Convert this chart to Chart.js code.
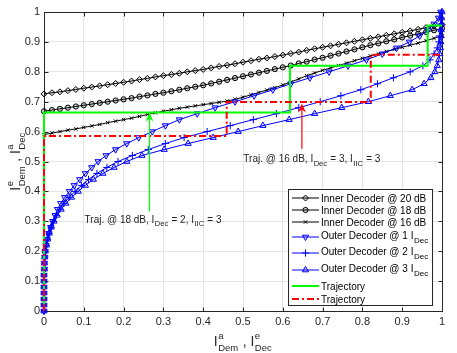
<!DOCTYPE html>
<html>
<head>
<meta charset="utf-8">
<script src="https://cdn.jsdelivr.net/npm/chart.js@4/dist/chart.umd.min.js"></script>
<style>
  html, body { margin: 0; padding: 0; background: #fff; }
  #wrap { position: relative; width: 457px; height: 353px; }
</style>
</head>
<body>
<div id="wrap"><canvas id="exitChart" width="457" height="353"></canvas></div>
<script>
// inner decoder curves, sampled along the x axis
const innerX = [0, 0.02, 0.04, 0.06, 0.08, 0.1, 0.12, 0.14, 0.16, 0.18, 0.2, 0.22, 0.24, 0.26, 0.28, 0.3,
  0.32, 0.34, 0.36, 0.38, 0.4, 0.42, 0.44, 0.46, 0.48, 0.5, 0.52, 0.54, 0.56, 0.58, 0.6, 0.62, 0.64, 0.66,
  0.68, 0.7, 0.72, 0.74, 0.76, 0.78, 0.8, 0.82, 0.84, 0.86, 0.88, 0.9, 0.92, 0.94, 0.96, 0.98, 1];
const inner20 = [0.726, 0.730, 0.733, 0.737, 0.741, 0.745, 0.749, 0.753, 0.757, 0.761, 0.765, 0.769, 0.774,
  0.778, 0.783, 0.787, 0.791, 0.795, 0.800, 0.804, 0.808, 0.813, 0.818, 0.822, 0.827, 0.832, 0.837, 0.842,
  0.846, 0.851, 0.856, 0.861, 0.866, 0.872, 0.877, 0.882, 0.887, 0.892, 0.897, 0.902, 0.907, 0.912, 0.917,
  0.922, 0.927, 0.932, 0.937, 0.942, 0.948, 0.953, 0.958];
const inner18 = [0.668, 0.672, 0.676, 0.680, 0.684, 0.688, 0.692, 0.696, 0.700, 0.704, 0.708, 0.712, 0.717,
  0.721, 0.726, 0.730, 0.735, 0.740, 0.745, 0.750, 0.755, 0.761, 0.767, 0.773, 0.779, 0.785, 0.791, 0.797,
  0.803, 0.809, 0.815, 0.821, 0.828, 0.834, 0.841, 0.847, 0.854, 0.861, 0.868, 0.875, 0.882, 0.889, 0.895,
  0.902, 0.908, 0.915, 0.921, 0.927, 0.933, 0.939, 0.945];
const inner16 = [0.590, 0.595, 0.600, 0.605, 0.609, 0.614, 0.619, 0.624, 0.630, 0.635, 0.640, 0.645, 0.651,
  0.657, 0.663, 0.668, 0.673, 0.678, 0.682, 0.686, 0.690, 0.694, 0.698, 0.702, 0.708, 0.715, 0.723, 0.731,
  0.739, 0.747, 0.756, 0.766, 0.776, 0.787, 0.796, 0.805, 0.813, 0.821, 0.829, 0.837, 0.845, 0.853, 0.860,
  0.868, 0.875, 0.882, 0.889, 0.896, 0.904, 0.912, 0.920];

// outer decoder curves, sampled along the y axis (a priori input)
const outerY = [0, 0.02, 0.04, 0.06, 0.08, 0.1, 0.12, 0.14, 0.16, 0.18, 0.2, 0.22, 0.24, 0.26, 0.28, 0.3,
  0.32, 0.34, 0.36, 0.38, 0.4, 0.42, 0.44, 0.46, 0.48, 0.5, 0.52, 0.54, 0.56, 0.58, 0.6, 0.62, 0.64, 0.66,
  0.68, 0.7, 0.72, 0.74, 0.76, 0.78, 0.8, 0.82, 0.84, 0.86, 0.88, 0.9, 0.92, 0.94, 0.96, 0.98, 1];
const outer1X = [0, 0, 0, 0, 0, 0, 0, 0.001, 0.001, 0.002, 0.003, 0.005, 0.008, 0.012, 0.017, 0.022, 0.028,
  0.034, 0.042, 0.052, 0.064, 0.076, 0.090, 0.104, 0.120, 0.136, 0.156, 0.180, 0.208, 0.238, 0.272, 0.305,
  0.340, 0.385, 0.430, 0.480, 0.528, 0.575, 0.620, 0.668, 0.716, 0.764, 0.810, 0.850, 0.886, 0.918, 0.944,
  0.965, 0.980, 0.991, 0.997];
const outer2X = [0, 0, 0, 0, 0, 0, 0, 0.001, 0.001, 0.002, 0.003, 0.006, 0.009, 0.013, 0.018, 0.024, 0.031,
  0.040, 0.050, 0.063, 0.078, 0.094, 0.112, 0.133, 0.158, 0.186, 0.222, 0.262, 0.305, 0.352, 0.410, 0.468,
  0.526, 0.584, 0.640, 0.694, 0.746, 0.796, 0.838, 0.878, 0.920, 0.952, 0.970, 0.980, 0.988, 0.992, 0.994,
  0.996, 0.997, 0.998, 0.999];
const outer3X = [0, 0, 0, 0, 0, 0, 0, 0.001, 0.001, 0.002, 0.003, 0.006, 0.009, 0.013, 0.018, 0.025, 0.033,
  0.043, 0.055, 0.069, 0.086, 0.104, 0.124, 0.148, 0.176, 0.208, 0.246, 0.302, 0.362, 0.425, 0.488, 0.550,
  0.616, 0.680, 0.748, 0.815, 0.870, 0.925, 0.955, 0.972, 0.982, 0.988, 0.992, 0.994, 0.996, 0.997, 0.998,
  0.998, 0.999, 0.999, 1];

// decoding trajectories
const traj18X = [0, 0, 0.618, 0.618, 0.964, 0.964, 1];
const traj18Y = [0, 0.664, 0.664, 0.820, 0.820, 0.955, 0.955];
const traj16X = [0, 0, 0.459, 0.459, 0.821, 0.821, 1];
const traj16Y = [0, 0.585, 0.585, 0.699, 0.699, 0.857, 0.857];

// annotation arrows (tail, head)
const arrow18X = [0.265, 0.265];
const arrow18Y = [0.333, 0.664];
const arrow16X = [0.648, 0.648];
const arrow16Y = [0.543, 0.694];

const xTickLabels = ['0', '0.1', '0.2', '0.3', '0.4', '0.5', '0.6', '0.7', '0.8', '0.9', '1'];
const yTickLabels = ['0', '0.1', '0.2', '0.3', '0.4', '0.5', '0.6', '0.7', '0.8', '0.9', '1'];

const seriesNames = [
  ['Inner Decoder @ 20 dB'],
  ['Inner Decoder @ 18 dB'],
  ['Inner Decoder @ 16 dB'],
  ['Outer Decoder @ 1 I', { sub: 'Dec' }],
  ['Outer Decoder @ 2 I', { sub: 'Dec' }],
  ['Outer Decoder @ 3 I', { sub: 'Dec' }],
  ['Trajectory'],
  ['Trajectory']
];
const note18 = ['Traj. @ 18 dB, I', { sub: 'Dec' }, ' = 2, I', { sub: 'IIC' }, ' = 3'];
const note16 = ['Traj. @ 16 dB, I', { sub: 'Dec' }, ' = 3, I', { sub: 'IIC' }, ' = 3'];
const xLabel = ['I', { sup: 'a', sub: 'Dem' }, ' , ', 'I', { sup: 'e', sub: 'Dec' }];
const yLabel = ['I', { sup: 'e', sub: 'Dem' }, ' , ', 'I', { sup: 'a', sub: 'Dec' }];

const FONT = '"Liberation Sans", Arial, Helvetica, sans-serif';
const INK = '#262626';
const BLUE = '#0000ff';

function pts(xs, ys) {
  return xs.map((x, i) => ({ x: x, y: ys[i] }));
}

function partWidth(ctx, p, o) {
  if (typeof p === 'string') {
    ctx.font = o.size + 'px ' + FONT;
    return ctx.measureText(p).width;
  }
  ctx.font = o.small + 'px ' + FONT;
  const a = p.sup ? ctx.measureText(p.sup).width : 0;
  const b = p.sub ? ctx.measureText(p.sub).width : 0;
  return Math.max(a, b) + 1;
}

function drawParts(ctx, parts, x, y, o) {
  const total = parts.reduce((s, p) => s + partWidth(ctx, p, o), 0);
  let cx = o.align === 'center' ? x - total / 2 : x;
  ctx.fillStyle = o.color || INK;
  ctx.textAlign = 'left';
  ctx.textBaseline = 'alphabetic';
  parts.forEach(p => {
    const w = partWidth(ctx, p, o);
    if (typeof p === 'string') {
      ctx.font = o.size + 'px ' + FONT;
      ctx.fillText(p, cx, y);
    } else {
      ctx.font = o.small + 'px ' + FONT;
      if (p.sup) ctx.fillText(p.sup, cx + 0.5, y - o.rise);
      if (p.sub) ctx.fillText(p.sub, cx + 0.5, y + o.drop);
    }
    cx += w;
  });
}

function arrow(ctx, chart, xs, ys, color) {
  const sx = chart.scales.x, sy = chart.scales.y;
  const x0 = sx.getPixelForValue(xs[0]), y0 = sy.getPixelForValue(ys[0]);
  const x1 = sx.getPixelForValue(xs[1]), y1 = sy.getPixelForValue(ys[1]);
  ctx.save();
  ctx.strokeStyle = color;
  ctx.fillStyle = color;
  ctx.lineWidth = 1.2;
  ctx.beginPath();
  ctx.moveTo(x0, y0);
  ctx.lineTo(x1, y1 + 5);
  ctx.stroke();
  ctx.beginPath();
  ctx.moveTo(x1, y1);
  ctx.lineTo(x1 - 4, y1 + 9);
  ctx.lineTo(x1, y1 + 6);
  ctx.lineTo(x1 + 4, y1 + 9);
  ctx.closePath();
  ctx.fill();
  ctx.restore();
}

const matlabFrame = {
  id: 'matlabFrame',
  beforeDatasetsDraw(chart) {
    const ctx = chart.ctx;
    const a = chart.chartArea;
    const L = Math.round(a.left) + 0.5, R = Math.round(a.right) + 0.5;
    const T = Math.round(a.top) + 0.5, B = Math.round(a.bottom) + 0.5;
    ctx.save();
    ctx.strokeStyle = INK;
    ctx.lineWidth = 1;
    ctx.beginPath();
    chart.scales.x.ticks.forEach(t => {
      const px = Math.round(chart.scales.x.getPixelForValue(t.value)) + 0.5;
      ctx.moveTo(px, B); ctx.lineTo(px, B - 4);
      ctx.moveTo(px, T); ctx.lineTo(px, T + 4);
    });
    chart.scales.y.ticks.forEach(t => {
      const py = Math.round(chart.scales.y.getPixelForValue(t.value)) + 0.5;
      ctx.moveTo(L, py); ctx.lineTo(L + 4, py);
      ctx.moveTo(R, py); ctx.lineTo(R - 4, py);
    });
    ctx.stroke();
    ctx.strokeRect(L, T, R - L, B - T);
    ctx.restore();
  },
  afterDatasetsDraw(chart) {
    const ctx = chart.ctx;
    const sx = chart.scales.x, sy = chart.scales.y;
    const a = chart.chartArea;

    // arrows + notes
    arrow(ctx, chart, arrow18X, arrow18Y, '#00ff00');
    arrow(ctx, chart, arrow16X, arrow16Y, '#ff0000');
    const noteStyle = { size: 10, small: 7.5, rise: 4, drop: 3.5, align: 'center', color: INK };
    drawParts(ctx, note18, sx.getPixelForValue(0.274), sy.getPixelForValue(0.295), noteStyle);
    drawParts(ctx, note16, sx.getPixelForValue(0.673), sy.getPixelForValue(0.497), noteStyle);

    // axis labels
    const labStyle = { size: 14, small: 9.5, rise: 7.5, drop: 5, align: 'center', color: INK };
    drawParts(ctx, xLabel, (a.left + a.right) / 2, 346, labStyle);
    ctx.save();
    ctx.translate(20, (a.top + a.bottom) / 2);
    ctx.rotate(-Math.PI / 2);
    drawParts(ctx, yLabel, 0, 0, labStyle);
    ctx.restore();

    // legend box
    const box = { x: 288.5, y: 189.5, w: 144, h: 116 };
    const rowsY = [198, 210, 222, 237, 253, 270, 286, 299];
    ctx.save();
    ctx.fillStyle = '#fff';
    ctx.fillRect(box.x, box.y, box.w, box.h);
    ctx.strokeStyle = INK;
    ctx.lineWidth = 1;
    ctx.strokeRect(box.x, box.y, box.w, box.h);
    chart.data.datasets.forEach((ds, i) => {
      const y = rowsY[i];
      ctx.save();
      ctx.strokeStyle = ds.borderColor;
      ctx.lineWidth = ds.borderWidth;
      ctx.setLineDash(ds.borderDash || []);
      ctx.beginPath();
      ctx.moveTo(292, y);
      ctx.lineTo(319, y);
      ctx.stroke();
      ctx.setLineDash([]);
      if (ds.pointRadius > 0 && Chart.helpers && Chart.helpers.drawPoint) {
        ctx.fillStyle = ds.pointBackgroundColor;
        ctx.strokeStyle = ds.pointBorderColor;
        ctx.lineWidth = ds.pointBorderWidth;
        Chart.helpers.drawPoint(ctx, {
          pointStyle: ds.pointStyle, radius: ds.pointRadius,
          rotation: ds.pointRotation || 0, borderWidth: ds.pointBorderWidth
        }, 305.5, y);
      }
      ctx.restore();
      const hasSub = seriesNames[i].length > 1;
      drawParts(ctx, seriesNames[i], 321, y + (hasSub ? 1.5 : 3.5),
        { size: 10, small: 8, rise: 4, drop: 4.5, align: 'left', color: '#000' });
    });
    ctx.restore();
  }
};

function lineSet(label, data, color, style, radius, extra) {
  return Object.assign({
    label: label,
    data: data,
    showLine: true,
    borderColor: color,
    borderWidth: 1,
    pointStyle: style,
    pointRadius: radius,
    pointBorderColor: color,
    pointBackgroundColor: 'rgba(0,0,0,0)',
    pointBorderWidth: 1,
    pointHoverRadius: radius,
    tension: 0,
    clip: false
  }, extra || {});
}

const datasets = [
  lineSet('inner20', pts(innerX, inner20), '#000', 'rectRot', 3, { pointBackgroundColor: 'rgba(0,0,0,0.1)', order: 10 }),
  lineSet('inner18', pts(innerX, inner18), '#000', 'circle', 2.6, { pointBackgroundColor: 'rgba(0,0,0,0.2)', order: 9 }),
  lineSet('inner16', pts(innerX, inner16), '#000', 'crossRot', 2.4, { order: 8 }),
  lineSet('outer1', pts(outer1X, outerY), BLUE, 'triangle', 3.6, { pointRotation: 180, pointBackgroundColor: 'rgba(0,0,255,0.12)', order: 7 }),
  lineSet('outer2', pts(outer2X, outerY), BLUE, 'cross', 3.6, { order: 6 }),
  lineSet('outer3', pts(outer3X, outerY), BLUE, 'triangle', 3.6, { pointBackgroundColor: 'rgba(0,0,255,0.12)', order: 5 }),
  lineSet('traj18', pts(traj18X, traj18Y), '#00ff00', 'circle', 0, { borderWidth: 2, order: 4 }),
  lineSet('traj16', pts(traj16X, traj16Y), '#ff0000', 'circle', 0, { borderWidth: 2, borderDash: [7, 3, 2, 3], order: 3 })
];

new Chart(document.getElementById('exitChart'), {
  type: 'scatter',
  data: { datasets: datasets },
  options: {
    responsive: false,
    animation: false,
    events: [],
    layout: { padding: { top: 12, right: 15, left: 0, bottom: 0 } },
    plugins: { legend: { display: false }, tooltip: { enabled: false } },
    scales: {
      x: {
        type: 'linear', min: 0, max: 1,
        ticks: {
          stepSize: 0.1, autoSkip: false, maxRotation: 0, padding: 4, color: INK,
          font: { family: FONT, size: 11 },
          callback: (v, i) => xTickLabels[i]
        },
        grid: { color: '#e4e4e4', drawTicks: false },
        border: { display: false },
        afterFit: s => { s.height = 42; }
      },
      y: {
        type: 'linear', min: 0, max: 1,
        ticks: {
          stepSize: 0.1, autoSkip: false, padding: 4, color: INK,
          font: { family: FONT, size: 11 },
          callback: (v, i) => yTickLabels[i]
        },
        grid: { color: '#e4e4e4', drawTicks: false },
        border: { display: false },
        afterFit: s => { s.width = 44; }
      }
    }
  },
  plugins: [matlabFrame]
});
</script>
</body>
</html>
